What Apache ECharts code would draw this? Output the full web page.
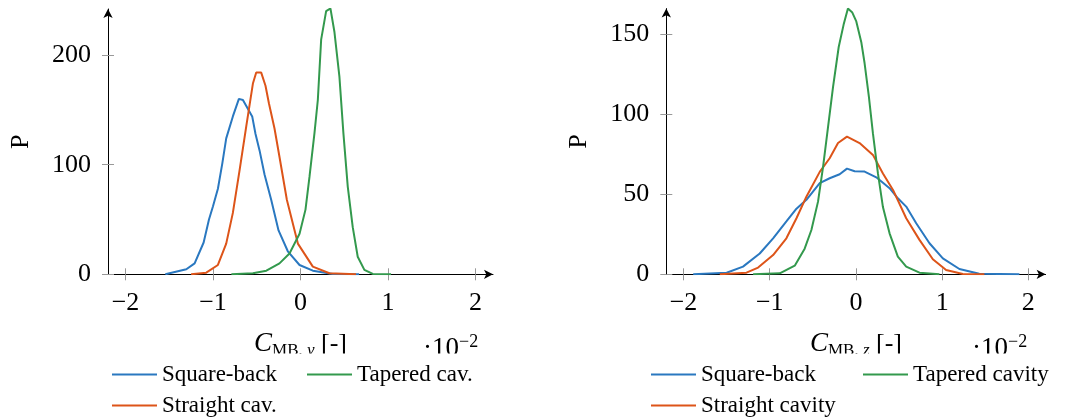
<!DOCTYPE html>
<html>
<head>
<meta charset="utf-8">
<script src="https://cdn.jsdelivr.net/npm/echarts@6/dist/echarts.min.js"></script>
<style>
  html, body { margin: 0; padding: 0; background: #fff; }
  #chart { width: 1071px; height: 419px; }
</style>
</head>
<body>
<div id="chart"></div>
<script>
// x values are in units of 1e-2, as on the axes
const xTicks = [-2, -1, 0, 1, 2]
const yTicksLeft = [0, 100, 200]
const yTicksRight = [0, 50, 100, 150]

// left panel: C_MB,y
const sqY_x = [-1.545, -1.305, -1.21, -1.107, -1.046, -1.0, -0.944, -0.894, -0.849, -0.773, -0.704, -0.658, -0.552, -0.514, -0.468, -0.411, -0.335, -0.251, -0.145, -0.011, 0.141, 0.37, 0.67]
const sqY_p = [0, 4.6, 10, 29, 50, 62, 78, 101, 124, 144, 160, 159, 144, 128, 113, 91, 68, 40, 21, 8.5, 3.3, 0.3, 0]
const stY_x = [-1.25, -1.077, -0.944, -0.849, -0.773, -0.696, -0.62, -0.544, -0.506, -0.449, -0.40, -0.361, -0.297, -0.24, -0.156, -0.03, 0.141, 0.33, 0.635]
const stY_p = [0, 1.5, 8.5, 28, 56, 95, 135, 174, 184, 184, 172, 156, 133, 107, 68, 28, 7, 1, 0]
const tpY_x = [-0.79, -0.544, -0.39, -0.24, -0.126, -0.011, 0.057, 0.103, 0.16, 0.198, 0.236, 0.293, 0.342, 0.388, 0.445, 0.49, 0.54, 0.597, 0.654, 0.73, 0.826, 1.035]
const tpY_p = [0, 1, 3.3, 10, 19, 37, 59, 89, 129, 159, 214, 240, 242.5, 221, 180, 129, 80, 43, 16, 4, 0.3, 0]

// right panel: C_MB,z
const sqZ_x = [-1.888, -1.50, -1.31, -1.116, -0.961, -0.807, -0.69, -0.575, -0.42, -0.305, -0.189, -0.104, -0.015, 0.10, 0.236, 0.39, 0.486, 0.583, 0.699, 0.853, 1.008, 1.2, 1.43, 1.896]
const sqZ_p = [0, 1, 4.8, 13, 22.5, 33, 41, 46.5, 57, 60, 62.5, 66, 64.4, 64.2, 60.6, 53.8, 47.5, 42.3, 31.9, 19.4, 10, 3.3, 0.4, 0]
const stZ_x = [-1.58, -1.27, -1.135, -0.961, -0.807, -0.69, -0.575, -0.42, -0.305, -0.208, -0.104, 0.042, 0.197, 0.313, 0.43, 0.583, 0.737, 0.892, 1.046, 1.24, 1.49]
const stZ_p = [0, 1, 4.2, 12, 22.5, 35, 48.5, 64, 72.5, 82, 86, 82, 74.6, 63, 52.7, 35, 21.5, 9.4, 2.7, 0.2, 0]
const tpZ_x = [-1.193, -0.884, -0.71, -0.595, -0.517, -0.44, -0.382, -0.324, -0.266, -0.2, -0.143, -0.093, -0.042, 0.004, 0.062, 0.1, 0.15, 0.197, 0.255, 0.313, 0.39, 0.486, 0.583, 0.737, 0.969]
const tpZ_p = [0, 0.6, 5.4, 16, 27.7, 45.4, 67, 92, 117, 142, 156, 166, 163.5, 158, 145, 132, 111, 88, 63, 42, 25.6, 11, 4.8, 1, 0]

const BLUE = '#2a78c0'
const ORANGE = '#dd5419'
const GREEN = '#33994d'
const FONT = 'Liberation Serif'

const zip = (xs, ys) => xs.map((x, i) => [x, ys[i]])

const chart = echarts.init(document.getElementById('chart'))

const grids = [
  { left: 108, top: 9, width: 385, height: 265.3 },
  { left: 666.3, top: 8.6, width: 379.3, height: 265.7 }
]

const mainX = (gi, name) => ({
  type: 'value', gridIndex: gi, min: -2.2, max: 2.2,
  name: name,
  nameLocation: 'middle', nameGap: 54,
  nameTextStyle: {
    fontFamily: FONT, fontSize: 26, color: '#000',
    rich: {
      c: { fontFamily: FONT, fontSize: 27, fontStyle: 'italic', color: '#000' },
      s: { fontFamily: FONT, fontSize: 17, padding: [14, 0, 0, 0], color: '#000' },
      si: { fontFamily: FONT, fontSize: 17, fontStyle: 'italic', padding: [14, 0, 0, 0], color: '#000' },
      n: { fontFamily: FONT, fontSize: 26, color: '#000' }
    }
  },
  axisLine: { show: true, onZero: false, lineStyle: { color: '#000', width: 1 }, symbol: ['none', 'arrow'], symbolSize: [7, 9] },
  axisTick: { show: true, length: 6, customValues: xTicks, lineStyle: { color: '#999' } },
  axisLabel: {
    customValues: xTicks, margin: 16, fontFamily: FONT, fontSize: 26, color: '#000',
    formatter: v => (v < 0 ? '\u2212' + Math.abs(v) : String(v))
  },
  splitLine: { show: false }
})
const innerX = gi => ({
  type: 'value', gridIndex: gi, min: -2.2, max: 2.2, position: 'bottom',
  axisLine: { show: false, onZero: false },
  axisTick: { show: true, inside: true, length: 6, customValues: xTicks, lineStyle: { color: '#999' } },
  axisLabel: { show: false }, splitLine: { show: false }
})
const mainY = (gi, max, ticks) => ({
  type: 'value', gridIndex: gi, min: 0, max: max,
  name: 'P', nameLocation: 'middle', nameGap: 74, nameRotate: 90,
  nameTextStyle: { fontFamily: FONT, fontSize: 26, color: '#000' },
  axisLine: { show: true, onZero: false, lineStyle: { color: '#000', width: 1 }, symbol: ['none', 'arrow'], symbolSize: [7, 9] },
  axisTick: { show: true, length: 6, customValues: ticks, lineStyle: { color: '#999' } },
  axisLabel: { customValues: ticks, margin: 17, fontFamily: FONT, fontSize: 26, color: '#000' },
  splitLine: { show: false }
})
const innerY = (gi, max, ticks) => ({
  type: 'value', gridIndex: gi, min: 0, max: max, position: 'left',
  axisLine: { show: false, onZero: false },
  axisTick: { show: true, inside: true, length: 6, customValues: ticks, lineStyle: { color: '#999' } },
  axisLabel: { show: false }, splitLine: { show: false }
})

const line = (name, color, xi, yi, xs, ys) => ({
  name: name, type: 'line', xAxisIndex: xi, yAxisIndex: yi,
  data: zip(xs, ys), symbol: 'none', smooth: false, z: 3,
  lineStyle: { color: color, width: 2 }, itemStyle: { color: color }
})

const legendItem = (name, left, top) => ({
  data: [{ name: name, icon: 'rect' }], left: left, top: top, padding: 0,
  itemWidth: 45, itemHeight: 2, selectedMode: false,
  textStyle: { fontFamily: FONT, fontSize: 23, color: '#000' }
})

const clipRect = x => ({
  type: 'rect', z: 100, shape: { x: x, y: 353.5, width: 290, height: 8 },
  style: { fill: '#fff' }
})
const multiplier = (left) => ({
  type: 'text', left: left, top: 333, z: 50,
  style: {
    text: '{a|\u00b710}{b|\u22122}',
    rich: {
      a: { fontFamily: FONT, fontSize: 27, fill: '#000' },
      b: { fontFamily: FONT, fontSize: 18, fill: '#000', padding: [0, 0, 14, 0] }
    }
  }
})

chart.setOption({
  animation: false,
  backgroundColor: '#fff',
  grid: grids,
  xAxis: [
    mainX(0, '{c|C}{s|MB, }{si|y} {n|[-]}'), innerX(0),
    mainX(1, '{c|C}{s|MB, }{si|z} {n|[-]}'), innerX(1)
  ],
  yAxis: [
    mainY(0, 242, yTicksLeft), innerY(0, 242, yTicksLeft),
    mainY(1, 166, yTicksRight), innerY(1, 166, yTicksRight)
  ],
  legend: [
    legendItem('Square-back', 112, 363),
    legendItem('Tapered cav.', 307, 363),
    legendItem('Straight cav.', 112, 394),
    legendItem('Square-back ', 651, 363),
    legendItem('Tapered cavity', 863, 363),
    legendItem('Straight cavity', 651, 394)
  ],
  graphic: [
    multiplier(423), multiplier(972),
    clipRect(220), clipRect(780)
  ],
  series: [
    line('Square-back', BLUE, 0, 0, sqY_x, sqY_p),
    line('Straight cav.', ORANGE, 0, 0, stY_x, stY_p),
    line('Tapered cav.', GREEN, 0, 0, tpY_x, tpY_p),
    line('Square-back ', BLUE, 2, 2, sqZ_x, sqZ_p),
    line('Straight cavity', ORANGE, 2, 2, stZ_x, stZ_p),
    line('Tapered cavity', GREEN, 2, 2, tpZ_x, tpZ_p)
  ]
})
</script>
</body>
</html>
